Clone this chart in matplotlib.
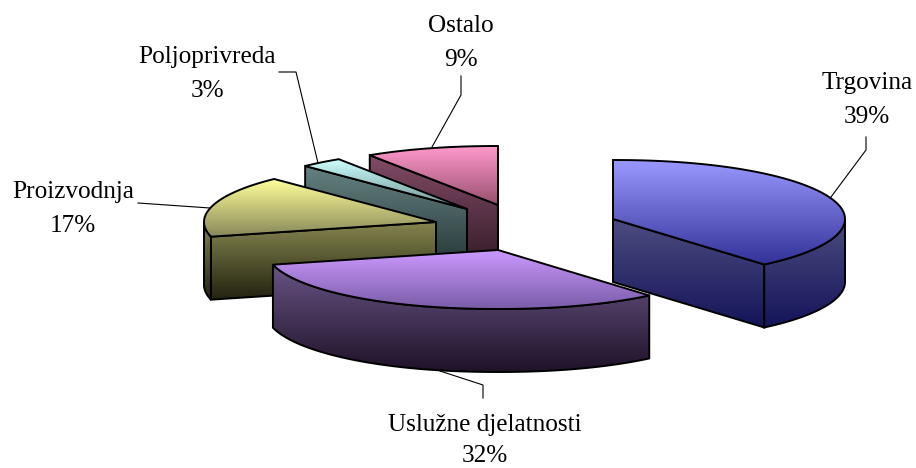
import numpy as np
import matplotlib
matplotlib.use("Agg")
import matplotlib.pyplot as plt
from matplotlib.path import Path
from matplotlib.patches import PathPatch
from matplotlib.colors import to_rgb

# data
categories = ["Trgovina", "Uslužne djelatnosti", "Proizvodnja", "Poljoprivreda", "Ostalo"]
shares = [39, 32, 17, 3, 9]

# style / layout
top_hi = ["#9999FF", "#CC99FF", "#FFFF99", "#CCFFFF", "#FF99CC"]
top_lo = ["#333399", "#7A5CA8", "#87875A", "#6E9090", "#98506F"]
side_hi = ["#4D4D80", "#6A5485", "#858550", "#658282", "#824B66"]
side_lo = ["#14145A", "#1E1228", "#22220F", "#233232", "#321A28"]
CENTER = (510, 229)
RX, RY, DEPTH = 232, 59, 63
WARP = 0.95
EXPLODE_X = [103, -12, -74, -43, -12]
EXPLODE_Y = [-10, 21, -7, -20, -24]
DRAW_ORDER = [4, 3, 2, 0, 1]
LABEL_POS = [(867, 83), (485, 425), (73, 192), (207, 57), (461, 26)]
PCT_GAP = [34, 31, 34, 34, 34]
LEADERS = [
    [(866, 137), (866, 150), (831, 197)],
    [(483, 398), (483, 385), (440, 371)],
    [(138, 203), (210, 208)],
    [(279, 72), (296, 72), (318, 163)],
    [(461, 76), (461, 95), (432, 147)],
]
FONT = "Liberation Serif"
FS = 18.2

plt.rcParams["font.family"] = [FONT, "DejaVu Serif"]
fig = plt.figure(figsize=(9.16, 4.68), dpi=100, facecolor="white")
ax = fig.add_axes([0, 0, 1, 1])
ax.set_axis_off()


def gradient_poly(pts, c1, c2, z, lw=1.4):
    pts = np.asarray(pts, float)
    x0, y0 = pts.min(axis=0)
    x1, y1 = pts.max(axis=0)
    t = np.linspace(0, 1, 128)[:, None, None]
    img = (1 - t) * np.array(to_rgb(c1))[None, None, :] + t * np.array(to_rgb(c2))[None, None, :]
    path = Path(np.vstack([pts, pts[:1]]), closed=True)
    im = ax.imshow(img, extent=(x0, x1, y1, y0), origin="upper", aspect="auto",
                   zorder=z, interpolation="bilinear")
    clip = PathPatch(path, transform=ax.transData, fc="none", ec="none")
    ax.add_patch(clip)
    im.set_clip_path(clip)
    ax.add_patch(PathPatch(path, fc="none", ec="black", lw=lw, zorder=z + 0.1,
                           joinstyle="miter"))


def rim(ax0, ay0, a, b):
    th = np.radians(np.arange(a, b, 1.5).tolist() + [b])
    s = np.sin(th)
    return np.column_stack([ax0 + RX * np.sign(s) * np.abs(s) ** WARP,
                            ay0 - RY * np.cos(th)])


angles = np.cumsum([0] + [360 * s / sum(shares) for s in shares])
z = 2
for i in DRAW_ORDER:
    a, b = angles[i], angles[i + 1]
    ax0, ay0 = CENTER[0] + EXPLODE_X[i], CENTER[1] + EXPLODE_Y[i]
    down = np.array([0, DEPTH])
    apex = np.array([ax0, ay0])
    # radial side walls facing the viewer
    for ang, visible in ((a, np.sin(np.radians(a)) < -1e-6), (b, np.sin(np.radians(b)) > 1e-6)):
        if visible:
            e = rim(ax0, ay0, ang, ang)[0]
            gradient_poly([apex, e, e + down, apex + down], side_hi[i], side_lo[i], z)
            z += 1
    # curved wall
    lo, hi = max(a, 90), min(b, 270)
    if hi > lo:
        r = rim(ax0, ay0, lo, hi)
        gradient_poly(np.vstack([r, (r + down)[::-1]]), side_hi[i], side_lo[i], z)
        z += 1
    # top
    gradient_poly(np.vstack([[apex], rim(ax0, ay0, a, b)]), top_hi[i], top_lo[i], z)
    z += 1

for i, name in enumerate(categories):
    x, y = LABEL_POS[i]
    ax.text(x, y, name, ha="center", va="center", fontsize=FS, color="black", zorder=50)
    ax.text(x, y + PCT_GAP[i], f"{shares[i]}%", ha="center", va="center", fontsize=FS, color="black", zorder=50)
    xs, ys = zip(*LEADERS[i])
    ax.plot(xs, ys, color="black", lw=0.8, zorder=40)

ax.set_xlim(0, 916)
ax.set_ylim(468, 0)
fig.savefig("out.png", dpi=100, facecolor="white")
